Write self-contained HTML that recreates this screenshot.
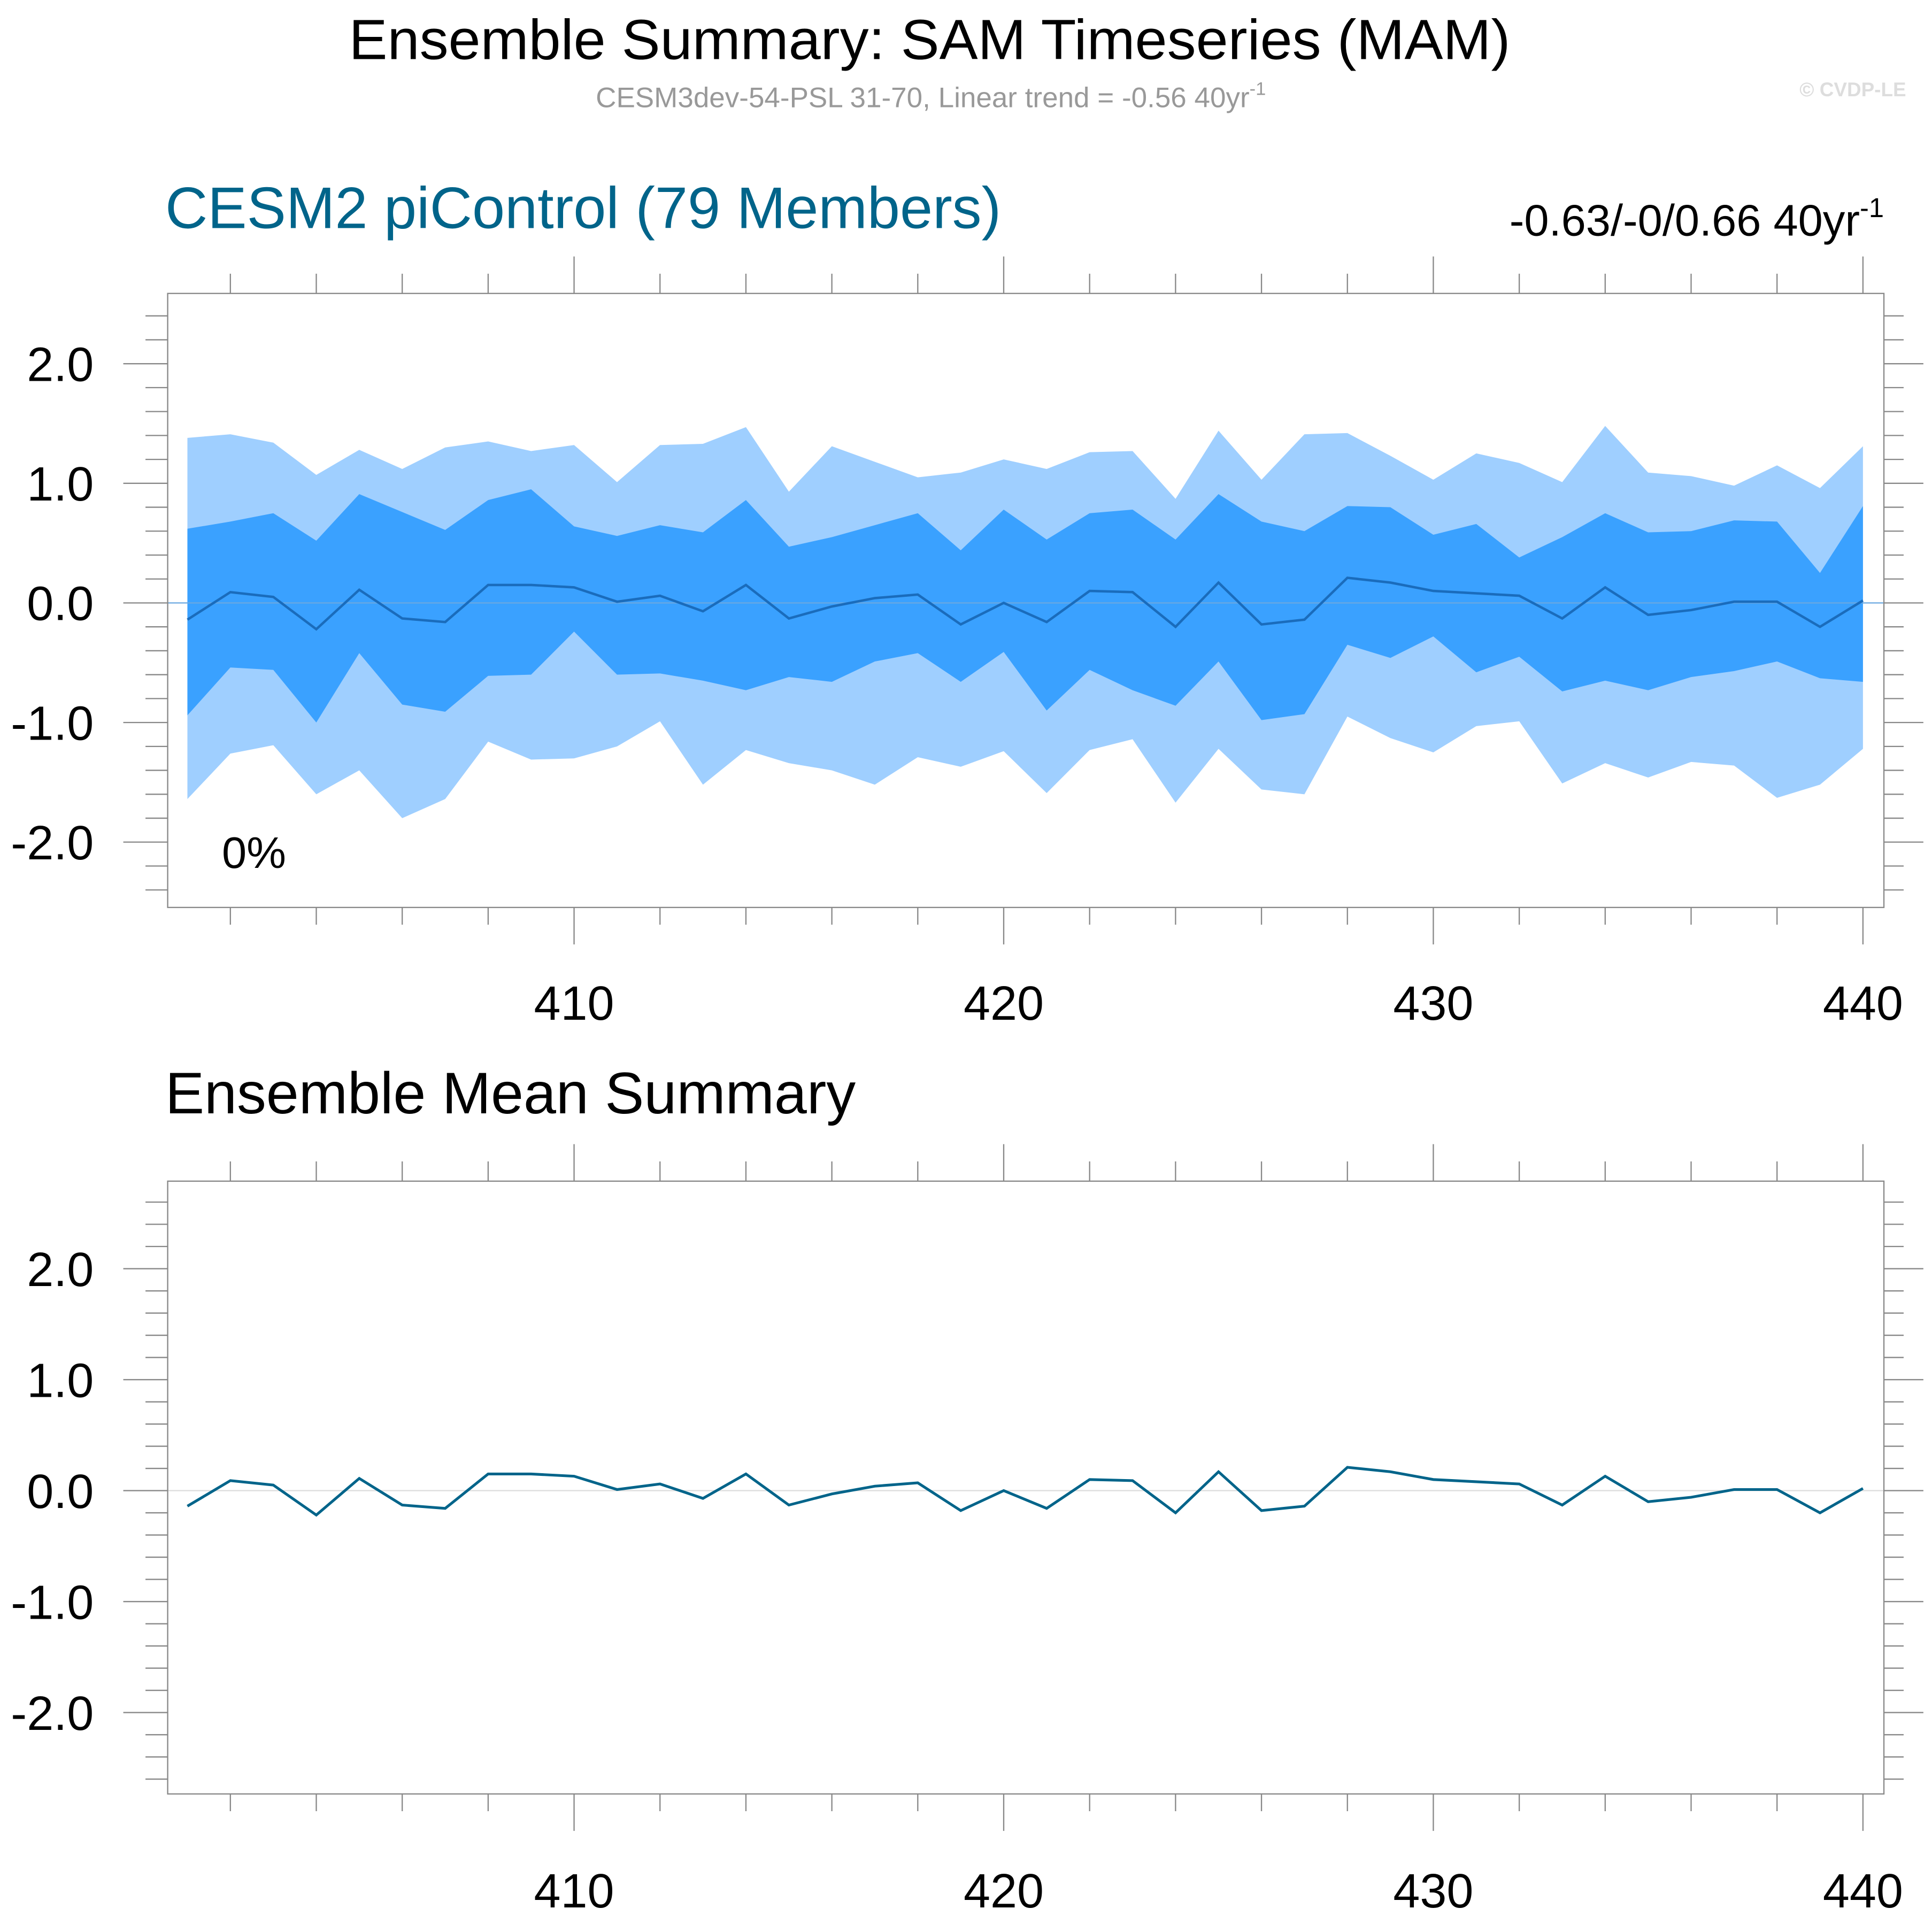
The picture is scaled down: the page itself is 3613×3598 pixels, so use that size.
<!DOCTYPE html>
<html><head><meta charset="utf-8"><style>
html,body{margin:0;padding:0;background:#fff;}
svg{display:block;font-family:"Liberation Sans",sans-serif;}
</style></head><body>
<svg id="chart" width="3613" height="3598" viewBox="0 0 1567 1560.5" preserveAspectRatio="none" xmlns="http://www.w3.org/2000/svg">
<rect width="1567" height="1560.5" fill="#fff"/>
<text x="754" y="48" font-size="46" text-anchor="middle" fill="#000" textLength="942" lengthAdjust="spacingAndGlyphs">Ensemble Summary: SAM Timeseries (MAM)</text>
<text x="755" y="87" font-size="23" text-anchor="middle" fill="#999">CESM3dev-54-PSL 31-70, Linear trend = -0.56 40yr<tspan font-size="15" dy="-10">-1</tspan></text>
<text x="1546" y="78" font-size="16" font-weight="bold" text-anchor="end" fill="#ddd">© CVDP-LE</text>
<text x="134" y="185" font-size="47.5" fill="#00648a" textLength="678" lengthAdjust="spacingAndGlyphs">CESM2 piControl (79 Members)</text>
<text x="1528" y="191" font-size="36" text-anchor="end" fill="#000">-0.63/-0/0.66 40yr<tspan font-size="22" dy="-15">-1</tspan></text>
<text x="180" y="704" font-size="36" fill="#000">0%</text>
<text x="134" y="903" font-size="47.5" fill="#000" textLength="560" lengthAdjust="spacingAndGlyphs">Ensemble Mean Summary</text>
<g id="p1"></g><g id="p2"></g>
</svg>
<script>
const years=[];for(let y=401;y<=440;y++)years.push(y);
const meanVals=[-0.14,0.09,0.05,-0.22,0.11,-0.13,-0.16,0.15,0.15,0.13,0.01,0.06,-0.07,0.15,-0.13,-0.03,0.04,0.07,-0.18,0.00,-0.16,0.10,0.09,-0.20,0.17,-0.18,-0.14,0.21,0.17,0.10,0.08,0.06,-0.13,0.13,-0.10,-0.06,0.01,0.01,-0.20,0.02];
const outerHi=[1.38,1.41,1.34,1.07,1.28,1.12,1.30,1.35,1.27,1.32,1.01,1.32,1.33,1.47,0.93,1.31,1.18,1.05,1.09,1.20,1.12,1.26,1.27,0.87,1.44,1.03,1.41,1.42,1.23,1.03,1.25,1.17,1.01,1.48,1.09,1.06,0.98,1.15,0.96,1.31];
const innerHi=[0.62,0.68,0.75,0.52,0.91,0.76,0.61,0.86,0.95,0.64,0.56,0.65,0.59,0.86,0.47,0.55,0.65,0.75,0.44,0.78,0.53,0.75,0.78,0.53,0.91,0.68,0.60,0.81,0.80,0.57,0.66,0.38,0.55,0.75,0.59,0.60,0.69,0.68,0.25,0.81];
const innerLo=[-0.94,-0.54,-0.56,-1.00,-0.42,-0.85,-0.91,-0.61,-0.60,-0.24,-0.60,-0.59,-0.65,-0.73,-0.62,-0.66,-0.49,-0.42,-0.66,-0.41,-0.90,-0.56,-0.73,-0.86,-0.49,-0.98,-0.93,-0.35,-0.46,-0.28,-0.58,-0.45,-0.74,-0.65,-0.73,-0.62,-0.57,-0.49,-0.63,-0.66];
const outerLo=[-1.64,-1.26,-1.19,-1.60,-1.40,-1.80,-1.64,-1.16,-1.31,-1.30,-1.20,-0.99,-1.52,-1.23,-1.34,-1.40,-1.52,-1.29,-1.37,-1.24,-1.59,-1.23,-1.14,-1.67,-1.22,-1.56,-1.60,-0.95,-1.13,-1.25,-1.03,-0.99,-1.51,-1.34,-1.46,-1.33,-1.36,-1.63,-1.52,-1.22];
const xTicks=[410,420,430,440];
const yTicks=[-2,-1,0,1,2];
const NS="http://www.w3.org/2000/svg";
function mk(parent,tag,attrs){const e=document.createElementNS(NS,tag);for(const k in attrs)e.setAttribute(k,attrs[k]);parent.appendChild(e);return e;}
const xs=y=>152+(y-401)*(1511-152)/39;
function panel(g,top,bot,zeroY,ppu,xlabY,bands){
  const ys=v=>zeroY-v*ppu;
  const L=136,R=1528;
  if(bands){
    const band=(hi,lo,col,name)=>{let d='';years.forEach((y,i)=>d+=(i?'L':'M')+xs(y)+','+ys(hi[i]));for(let i=years.length-1;i>=0;i--)d+='L'+xs(years[i])+','+ys(lo[i]);const p=mk(g,'path',{d:d+'Z',fill:col});

};
    band(outerHi,outerLo,'#9fcfff','outer-range-band');
    band(innerHi,innerLo,'#3aa1ff','inner-range-band');
    const z=mk(g,'line',{x1:L,x2:R,y1:ys(0),y2:ys(0),stroke:'#6aa8e0','stroke-width':1});
    
    
  } else {
    const z=mk(g,'line',{x1:L,x2:R,y1:ys(0),y2:ys(0),stroke:'#ddd','stroke-width':1});
    
    
  }
  const pts=years.map((y,i)=>xs(y)+','+ys(meanVals[i])).join(' ');
  const ml=mk(g,'polyline',{points:pts,fill:'none',stroke:bands?'#1a6cbc':'#00648a','stroke-width':bands?2:2.2});
  
  
  const box=mk(g,'rect',{x:L,y:top,width:R-L,height:bot-top,fill:'none',stroke:'#888','stroke-width':1});
  
  
  years.forEach(y=>{if(y%2!==0)return;const maj=y%10===0;const x=xs(y);
    mk(g,'line',{x1:x,x2:x,y1:top,y2:top-(maj?30:16),stroke:'#888','stroke-width':1});
    mk(g,'line',{x1:x,x2:x,y1:bot,y2:bot+(maj?30:14),stroke:'#888','stroke-width':1});});
  for(let k=-13;k<=13;k++){const v=k*0.2;const y=ys(v);if(y<top+2||y>bot-2)continue;const maj=Math.abs(k%5)===0;
    mk(g,'line',{x1:L,x2:L-(maj?36:18),y1:y,y2:y,stroke:'#888','stroke-width':1});
    mk(g,'line',{x1:R,x2:R+(maj?32:16),y1:y,y2:y,stroke:'#888','stroke-width':1});}
  xTicks.forEach(t=>{const tx=mk(g,'text',{x:xs(t),y:xlabY,'font-size':39,'text-anchor':'middle',fill:'#000'});tx.textContent=t;
    
    });
  yTicks.forEach(t=>{const tx=mk(g,'text',{x:76,y:ys(t)+14,'font-size':39,'text-anchor':'end',fill:'#000'});tx.textContent=t.toFixed(1);
    
    });
}
const g1=document.getElementById('p1');


const g2=document.getElementById('p2');


panel(g1,238,736,489,97,827,true);
panel(g2,958,1455,1209,90,1547,false);
</script>
</body></html>
